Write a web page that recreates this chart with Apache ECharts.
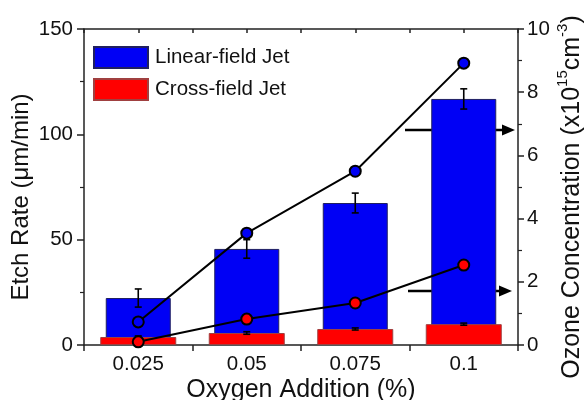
<!DOCTYPE html>
<html>
<head>
<meta charset="utf-8">
<script src="https://cdn.jsdelivr.net/npm/echarts@6/dist/echarts.min.js"></script>
<style>html,body{margin:0;padding:0;background:#fff;}#c{width:586px;height:400px;}</style>
</head>
<body>
<div id="c"></div>
<script>
const categories = ['0.025', '0.05', '0.075', '0.1'];
const linearEtch = [22.3, 45.6, 67.4, 116.8];
const linearEtchErr = [4.3, 4.4, 4.7, 4.8];
const crossEtch = [3.8, 5.7, 7.6, 9.9];
const crossEtchErr = [0.5, 0.6, 0.5, 0.5];
const linearOzone = [0.73, 3.54, 5.5, 8.92];
const crossOzone = [0.1, 0.82, 1.33, 2.53];
const leftTicks = [0, 50, 100, 150];
const rightTicks = [0, 2, 4, 6, 8, 10];

const FONT = 'Liberation Sans, Arial, sans-serif';
const AX = '#222';
const chart = echarts.init(document.getElementById('c'));

function errData(vals, errs) {
  return vals.map((v, i) => [i, v - errs[i], v + errs[i]]);
}
function errRender(params, api) {
  const i = api.value(0);
  const lo = api.coord([i, api.value(1)]);
  const hi = api.coord([i, api.value(2)]);
  const w = 3.5;
  const st = { stroke: '#000', lineWidth: 1.6 };
  return {
    type: 'group',
    children: [
      { type: 'line', shape: { x1: hi[0], y1: hi[1], x2: lo[0], y2: lo[1] }, style: st },
      { type: 'line', shape: { x1: hi[0] - w, y1: hi[1], x2: hi[0] + w, y2: hi[1] }, style: st },
      { type: 'line', shape: { x1: lo[0] - w, y1: lo[1], x2: lo[0] + w, y2: lo[1] }, style: st }
    ]
  };
}
function arrow(x1, x2, y) {
  return {
    type: 'group', z: 100,
    children: [
      { type: 'line', shape: { x1: x1, y1: y, x2: x2 - 10, y2: y }, style: { stroke: '#000', lineWidth: 2.5 } },
      { type: 'polygon', shape: { points: [[x2, y], [x2 - 13, y - 5.5], [x2 - 13, y + 5.5]] }, style: { fill: '#000' } }
    ]
  };
}

chart.setOption({
  animation: false,
  backgroundColor: '#fff',
  grid: { left: 84, right: 68, top: 29, bottom: 55, containLabel: false, outerBoundsMode: 'none' },
  legend: {
    orient: 'vertical', left: 93, top: 46, padding: 0,
    itemWidth: 54, itemHeight: 21, itemGap: 9,
    icon: 'rect',
    data: ['Linear-field Jet', 'Cross-field Jet'],
    textStyle: { fontFamily: FONT, fontSize: 20.5, color: '#111', padding: [0, 0, 0, 2] }
  },
  xAxis: [
    {
      type: 'category', data: categories, position: 'bottom',
      name: 'Oxygen Addition (%)', nameLocation: 'middle', nameGap: 33, nameMoveOverlap: false,
      nameTextStyle: { fontFamily: FONT, fontSize: 25, color: '#111' },
      axisLine: { lineStyle: { color: AX, width: 1.5 } },
      axisTick: { show: true, inside: false, length: 6, lineStyle: { color: AX, width: 1.5 } },
      axisLabel: { fontFamily: FONT, fontSize: 20.5, color: '#111', margin: 9 }
    },
    {
      type: 'value', position: 'top', min: 0, max: 4, interval: 0.5,
      axisLine: { show: true, onZero: false, lineStyle: { color: AX, width: 1.5 } },
      axisTick: { show: true, inside: true, length: 4, lineStyle: { color: AX, width: 1.5 } },
      axisLabel: { show: false }, splitLine: { show: false }
    },
    {
      type: 'category', data: categories, position: 'bottom', show: false
    }
  ],
  yAxis: [
    {
      type: 'value', min: 0, max: 150, interval: 50, position: 'left',
      name: 'Etch Rate (\u03bcm/min)', nameLocation: 'middle', nameGap: 51, nameRotate: 90, nameMoveOverlap: false,
      nameTextStyle: { fontFamily: FONT, fontSize: 24, color: '#111', padding: [0, 20, 0, 0] },
      axisLine: { show: true, lineStyle: { color: AX, width: 1.5 } },
      axisTick: { show: true, length: 7, lineStyle: { color: AX, width: 1.5 } },
      minorTick: { show: true, splitNumber: 2, length: 4, lineStyle: { color: AX, width: 1.2 } },
      axisLabel: { fontFamily: FONT, fontSize: 20.5, color: '#111', margin: 11,
        customValues: leftTicks },
      splitLine: { show: false }
    },
    {
      type: 'value', min: 0, max: 10, interval: 2, position: 'right',
      name: '{a|Ozone Concentration (x10}{s|15}{a|cm}{s|-3}{a|)}',
      nameLocation: 'middle', nameGap: 37, nameRotate: 90, nameMoveOverlap: false,
      nameTextStyle: {
        padding: [0, 20, 0, 0],
        rich: {
          a: { fontFamily: FONT, fontSize: 25, color: '#111', lineHeight: 30, verticalAlign: 'bottom' },
          s: { fontFamily: FONT, fontSize: 15, color: '#111', lineHeight: 30, verticalAlign: 'top' }
        }
      },
      axisLine: { show: true, lineStyle: { color: AX, width: 1.5 } },
      axisTick: { show: true, length: 6, lineStyle: { color: AX, width: 1.5 } },
      minorTick: { show: true, splitNumber: 2, length: 4, lineStyle: { color: AX, width: 1.2 } },
      axisLabel: { fontFamily: FONT, fontSize: 20.5, color: '#111', margin: 9,
        customValues: rightTicks },
      splitLine: { show: false }
    }
  ],
  series: [
    {
      name: 'Linear-field Jet', type: 'bar', xAxisIndex: 0, yAxisIndex: 0,
      data: linearEtch, barWidth: 65, z: 2,
      itemStyle: { color: '#0000f5', borderColor: '#202060', borderWidth: 1 }
    },
    {
      name: 'Cross-field Jet', type: 'bar', xAxisIndex: 2, yAxisIndex: 0,
      data: crossEtch, barWidth: 76, z: 3,
      itemStyle: { color: '#ff0000', borderColor: '#a04040', borderWidth: 1 }
    },
    {
      type: 'custom', xAxisIndex: 0, yAxisIndex: 0, z: 4,
      renderItem: errRender, data: errData(linearEtch, linearEtchErr)
    },
    {
      type: 'custom', xAxisIndex: 0, yAxisIndex: 0, z: 4,
      renderItem: errRender, data: errData(crossEtch, crossEtchErr)
    },
    {
      name: 'Linear ozone', type: 'line', xAxisIndex: 0, yAxisIndex: 1, z: 6,
      data: linearOzone, symbol: 'circle', symbolSize: 11,
      lineStyle: { color: '#000', width: 2 },
      itemStyle: { color: '#0000f5', borderColor: '#000', borderWidth: 2 }
    },
    {
      name: 'Cross ozone', type: 'line', xAxisIndex: 0, yAxisIndex: 1, z: 6,
      data: crossOzone, symbol: 'circle', symbolSize: 11,
      lineStyle: { color: '#000', width: 2 },
      itemStyle: { color: '#ff0000', borderColor: '#000', borderWidth: 2 }
    }
  ],
  graphic: [arrow(405, 515, 130), arrow(408, 512, 291)]
});
</script>
</body>
</html>
